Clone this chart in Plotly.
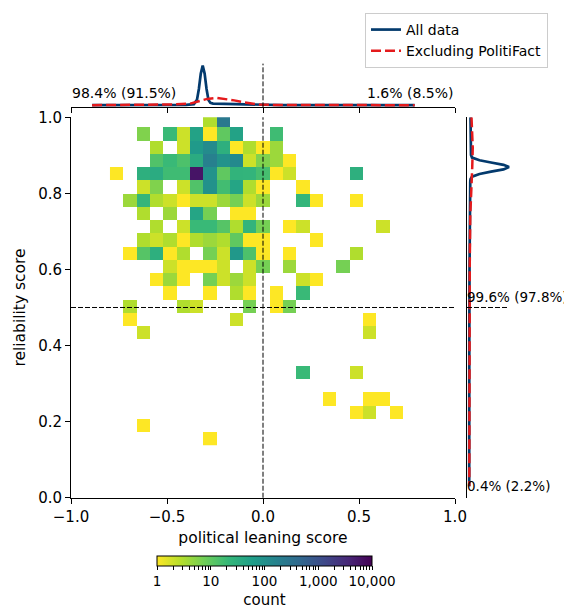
import numpy as np
import plotly.graph_objects as go

# ---------------- data ----------------
# 2D histogram bins (political leaning score on x, reliability score on y)
lean_bin_start = -0.797
lean_bin_width = 0.0694
lean_bin_count = 22
rel_bin_top = 1.008
rel_bin_height = 0.0348
rel_bin_count = 25

# non-empty cells: row index counted from the top bin, column index from the left bin
bin_row = ([0] * 2 + [1] * 8 + [2] * 9 + [3] * 11 + [4] * 14 + [5] * 10 + [6] * 14 + [7] * 6
           + [8] * 11 + [9] * 11 + [10] * 12 + [11] * 9 + [12] * 9 + [13] * 6 + [14] * 6
           + [15] * 3 + [16] * 2 + [19] * 2 + [21] * 3 + [22] * 3 + [23] + [24])
bin_col = [7, 8,
           2, 4, 5, 6, 7, 8, 9, 12,
           3, 5, 6, 7, 8, 9, 10, 11, 12,
           3, 4, 5, 6, 7, 8, 9, 10, 11, 12, 13,
           0, 2, 3, 4, 5, 6, 7, 8, 9, 10, 11, 12, 13, 18,
           2, 3, 5, 6, 7, 8, 9, 10, 11, 14,
           1, 2, 3, 4, 5, 6, 7, 8, 9, 10, 11, 14, 15, 18,
           2, 4, 6, 7, 9, 10,
           3, 5, 6, 7, 8, 9, 10, 11, 13, 14, 20,
           2, 3, 4, 5, 6, 7, 8, 9, 10, 11, 15,
           1, 2, 3, 4, 5, 7, 8, 9, 10, 11, 13, 18,
           4, 5, 6, 7, 8, 10, 11, 13, 17,
           3, 4, 5, 7, 8, 9, 10, 14, 15,
           4, 7, 9, 10, 12, 14,
           1, 5, 6, 10, 12, 13,
           1, 9, 19,
           2, 19,
           14, 18,
           16, 19, 20,
           18, 19, 21,
           2,
           7]
bin_count = [3, 250,
             6, 20, 2, 50, 1, 10, 50, 18,
             3, 2, 70, 120, 30, 1, 3, 1, 4,
             13, 20, 14, 35, 180, 90, 130, 2, 6, 4, 1,
             1, 30, 35, 18, 18, 6000, 90, 10, 25, 24, 16, 1, 2, 30,
             2, 6, 2, 13, 95, 17, 45, 3, 1, 1,
             4, 23, 3, 2, 1, 2, 2, 4, 7, 2, 4, 23, 1, 1,
             3, 4, 45, 7, 1, 1,
             3, 2, 20, 20, 12, 3, 24, 7, 1, 2, 2,
             3, 2, 3, 1, 3, 4, 3, 10, 1, 1, 1,
             1, 12, 30, 1, 3, 7, 2, 75, 14, 1, 1, 3,
             2, 1, 1, 1, 2, 2, 7, 4, 7,
             1, 4, 1, 7, 2, 4, 2, 2, 1,
             1, 1, 3, 1, 1, 20,
             3, 3, 2, 7, 1, 7,
             1, 2, 1,
             2, 2,
             20, 2,
             1, 1, 1,
             1, 2, 1,
             1,
             1]

# marginal density of leaning score (top panel)
lean_grid_all = [-0.89, -0.70, -0.50, -0.40, -0.36, -0.344, -0.334, -0.324, -0.314, -0.304,
                 -0.294, -0.284, -0.274, -0.26, -0.20, -0.12, -0.05, 0.0, 0.10, 0.40, 0.79]
lean_dens_all = [0.04, 0.04, 0.05, 0.08, 0.25, 1.1, 3.3, 6.4, 8.0, 6.4,
                 3.3, 1.1, 0.5, 0.35, 0.3, 0.25, 0.15, 0.08, 0.05, 0.04, 0.03]
lean_grid_excl = [-0.89, -0.70, -0.55, -0.45, -0.38, -0.33, -0.29, -0.24, -0.19, -0.15,
                  -0.10, -0.06, -0.02, 0.05, 0.20, 0.50, 0.79]
lean_dens_excl = [0.03, 0.06, 0.12, 0.2, 0.34, 0.9, 1.3, 1.5, 1.3, 1.0,
                  0.6, 0.33, 0.15, 0.08, 0.06, 0.05, 0.03]

# marginal density of reliability score (right panel)
rel_grid_all = [1.00, 0.95, 0.91, 0.901, 0.894, 0.887, 0.881, 0.875, 0.869, 0.863,
                0.857, 0.851, 0.844, 0.837, 0.83, 0.75, 0.60, 0.40, 0.20, 0.03]
rel_dens_all = [0.3, 0.35, 0.3, 0.4, 0.6, 2.1, 4.4, 6.9, 8.0, 6.9,
                4.4, 2.1, 0.6, 0.3, 0.25, 0.15, 0.1, 0.06, 0.05, 0.04]
rel_grid_excl = [1.00, 0.96, 0.92, 0.87, 0.83, 0.74, 0.61, 0.45, 0.30, 0.15, 0.03]
rel_dens_excl = [0.5, 0.68, 0.75, 0.65, 0.5, 0.25, 0.15, 0.1, 0.08, 0.08, 0.06]

quadrant_text_left = "98.4% (91.5%)"
quadrant_text_right = "1.6% (8.5%)"
quadrant_text_top = "99.6% (97.8%)"
quadrant_text_bottom = "0.4% (2.2%)"

cbar_tick_values = [1, 10, 100, 1000, 10000]
cbar_tick_labels = ["1", "10", "100", "1,000", "10,000"]

# ---------------- build ----------------
OFF = 8            # page body margin
W, H = 564, 602
FONT = "DejaVu Sans"
BLUE = "#033a6d"
RED = "#e41a1c"


def fx(px):
    return (px - OFF) / W


def fy(py):
    return 1 - (py - OFF) / H


x_edges = lean_bin_start + lean_bin_width * np.arange(lean_bin_count + 1)
y_edges_top = rel_bin_top - rel_bin_height * np.arange(rel_bin_count + 1)
z = np.full((rel_bin_count, lean_bin_count), np.nan)
for r, c, n in zip(bin_row, bin_col, bin_count):
    z[r, c] = np.log10(n)
z = z[::-1]
y_edges = y_edges_top[::-1]

tickvals = []
ticktext = []
for k, (v, lab) in enumerate(zip(cbar_tick_values, cbar_tick_labels)):
    tickvals.append(np.log10(v))
    ticktext.append(lab)
    if k < len(cbar_tick_values) - 1:
        for m in range(2, 10):
            tickvals.append(np.log10(v * m))
            ticktext.append("")

fig = go.Figure()
fig.add_trace(go.Heatmap(
    x=x_edges, y=y_edges, z=z, xaxis="x", yaxis="y",
    colorscale="Viridis", reversescale=True, zmin=0, zmax=4,
    showscale=True, hoverongaps=False,
    colorbar=dict(
        orientation="h", x=fx(264.5), xanchor="center", len=215 / W, lenmode="fraction",
        y=fy(560), yanchor="top", thickness=10, xpad=0, ypad=0,
        outlinecolor="black", outlinewidth=1,
        tickvals=tickvals, ticktext=ticktext, ticks="outside", ticklen=4,
        tickcolor="black", tickfont=dict(family=FONT, size=13.5, color="black"),
        title=dict(text="count", side="bottom", font=dict(family=FONT, size=15, color="black")),
    ),
))

fig.add_trace(go.Scatter(x=lean_grid_all, y=lean_dens_all, xaxis="x2", yaxis="y2",
                         mode="lines", line=dict(color=BLUE, width=2.7),
                         name="All data", legendgroup="all", showlegend=True))
fig.add_trace(go.Scatter(x=rel_dens_all, y=rel_grid_all, xaxis="x3", yaxis="y3",
                         mode="lines", line=dict(color=BLUE, width=2.7),
                         name="All data", legendgroup="all", showlegend=False))
fig.add_trace(go.Scatter(x=lean_grid_excl, y=lean_dens_excl, xaxis="x2", yaxis="y2",
                         mode="lines", line=dict(color=RED, width=2.5, dash="10px,4px"),
                         name="Excluding PolitiFact", legendgroup="excl", showlegend=True))
fig.add_trace(go.Scatter(x=rel_dens_excl, y=rel_grid_excl, xaxis="x3", yaxis="y3",
                         mode="lines", line=dict(color=RED, width=2.5, dash="10px,4px"),
                         name="Excluding PolitiFact", legendgroup="excl", showlegend=False))

main_x_dom = [fx(71), fx(455)]
main_y_dom = [fy(501), fy(118)]
tick_font = dict(family=FONT, size=15, color="black")
title_font = dict(family=FONT, size=15.5, color="black")
dens_range = [-0.4, 8.4]

fig.update_layout(
    width=W, height=H, margin=dict(l=0, r=0, t=0, b=0),
    paper_bgcolor="white", plot_bgcolor="rgba(0,0,0,0)",
    font=dict(family=FONT, size=14, color="black"),
    xaxis=dict(domain=main_x_dom, range=[-1, 1], anchor="y",
               tickvals=[-1, -0.5, 0, 0.5, 1], tickformat=".1f",
               ticks="outside", ticklen=5, tickwidth=1, tickcolor="black",
               showline=True, linecolor="black", linewidth=1, mirror=False,
               showgrid=False, zeroline=False, tickfont=tick_font, automargin=False,
               title=dict(text="political leaning score", standoff=7, font=title_font)),
    yaxis=dict(domain=main_y_dom, range=[0, 1], anchor="x",
               tickvals=[0, 0.2, 0.4, 0.6, 0.8, 1.0], tickformat=".1f",
               ticks="outside", ticklen=5, tickwidth=1, tickcolor="black",
               showline=True, linecolor="black", linewidth=1, mirror=False,
               showgrid=False, zeroline=False, tickfont=tick_font, automargin=False,
               title=dict(text="reliability score", standoff=8, font=title_font)),
    xaxis2=dict(domain=main_x_dom, matches="x", anchor="y2",
                tickvals=[-1, -0.5, 0, 0.5, 1], showticklabels=False,
                ticks="outside", ticklen=5, tickwidth=1, tickcolor="black",
                showline=True, linecolor="black", linewidth=1,
                showgrid=False, zeroline=False, automargin=False),
    yaxis2=dict(domain=[fy(108), fy(64)], range=dens_range, anchor="x2",
                visible=False, showgrid=False, zeroline=False, fixedrange=True),
    xaxis3=dict(domain=[fx(467), fx(511)], range=dens_range, anchor="y3",
                visible=False, showgrid=False, zeroline=False, fixedrange=True),
    yaxis3=dict(domain=main_y_dom, matches="y", anchor="x3",
                showticklabels=False, ticks="",
                showline=True, linecolor="black", linewidth=1,
                showgrid=False, zeroline=False, automargin=False),
    legend=dict(x=fx(548), xanchor="right", y=fy(13), yanchor="top",
                bgcolor="white", bordercolor="#cccccc", borderwidth=1,
                font=dict(family=FONT, size=14, color="black"),
                tracegroupgap=0, itemwidth=30),
    showlegend=True,
)

dash_line = dict(color="black", width=1, dash="5px,2px")
fig.add_shape(type="line", xref="x", yref="y domain", x0=0, x1=0, y0=0, y1=1, line=dash_line)
fig.add_shape(type="line", xref="x2", yref="y2 domain", x0=0, x1=0, y0=0, y1=1, line=dash_line)
fig.add_shape(type="line", xref="x domain", yref="y", x0=0, x1=1, y0=0.5, y1=0.5, line=dash_line)
fig.add_shape(type="line", xref="x3 domain", yref="y3", x0=0, x1=0.93, y0=0.5, y1=0.5, line=dash_line)

ann_font = dict(family=FONT, size=14, color="black")
ann_font_r = dict(family=FONT, size=13.5, color="black")
fig.add_annotation(text=quadrant_text_left, xref="paper", yref="paper", x=fx(70), y=fy(94),
                   xanchor="left", yanchor="middle", showarrow=False, font=ann_font)
fig.add_annotation(text=quadrant_text_right, xref="paper", yref="paper", x=fx(456), y=fy(94),
                   xanchor="right", yanchor="middle", showarrow=False, font=ann_font)
fig.add_annotation(text=quadrant_text_top, xref="paper", yref="paper", x=fx(465), y=fy(299),
                   xanchor="left", yanchor="middle", showarrow=False, font=ann_font_r)
fig.add_annotation(text=quadrant_text_bottom, xref="paper", yref="paper", x=fx(465), y=fy(489),
                   xanchor="left", yanchor="middle", showarrow=False, font=ann_font_r)

fig.write_html("out.html")
